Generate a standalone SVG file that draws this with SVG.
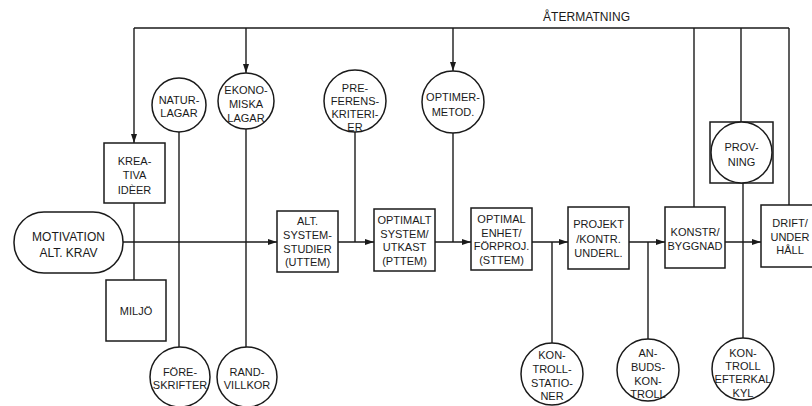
<svg xmlns="http://www.w3.org/2000/svg" width="812" height="406" viewBox="0 0 812 406">
<defs>
<marker id="arr" markerUnits="userSpaceOnUse" markerWidth="9" markerHeight="6" refX="9" refY="3" orient="auto">
<path d="M0,0 L9,3 L0,6 z" fill="#1a1a1a"/>
</marker>
<style>
.n{fill:#fff;stroke:#1a1a1a;stroke-width:1.5}
.c{fill:none;stroke:#1a1a1a;stroke-width:1.4}
.a{fill:none;stroke:#1a1a1a;stroke-width:1.4;marker-end:url(#arr)}
text{font-family:"Liberation Sans",Arial,sans-serif;font-size:11px;fill:#1a1a1a;text-anchor:middle}
.big{font-size:12px}
</style>
</defs>
<rect width="812" height="406" fill="#fff"/>
<g id="connectors">
<path class="c" d="M134,28 H789"/>
<path class="a" d="M134,28 V143"/>
<path class="a" d="M246,28 V73"/>
<path class="a" d="M453,28 V71"/>
<path class="c" d="M694,28 V207"/>
<path class="c" d="M741,28 V122"/>
<path class="c" d="M789,28 V205"/>
<path class="c" d="M134,203 V280"/>
<path class="c" d="M179,132 V347"/>
<path class="c" d="M246,129 V347"/>
<path class="c" d="M355,132 V242"/>
<path class="c" d="M453,133 V242"/>
<path class="c" d="M552,242 V343"/>
<path class="c" d="M648,242 V339"/>
<path class="c" d="M743,183 V338"/>
<path class="a" d="M123,242 H277"/>
<path class="a" d="M338,242 H374"/>
<path class="a" d="M435,242 H471"/>
<path class="a" d="M532,242 H568"/>
<path class="a" d="M629,242 H665"/>
<path class="a" d="M725,242 H761"/>
</g>
<g id="label-atermatning"><text x="543" y="21" class="big" style="text-anchor:start" textLength="87">ÅTERMATNING</text></g>
<g id="motivation">
<rect class="n" x="14" y="212" width="109" height="61" rx="30" ry="30"/>
<text x="68.5" y="241" class="big">MOTIVATION</text>
<text x="68.5" y="257" class="big">ALT. KRAV</text>
</g>
<g id="kreativa">
<rect class="n" x="104" y="143" width="61" height="60"/>
<text x="134.5" y="165">KREA-</text>
<text x="134.5" y="179">TIVA</text>
<text x="134.5" y="194">IDÈER</text>
</g>
<g id="miljo">
<rect class="n" x="106" y="280" width="60" height="61"/>
<text x="136" y="315">MILJÖ</text>
</g>
<g id="naturlagar">
<circle class="n" cx="179" cy="105" r="27"/>
<text x="179" y="104">NATUR-</text>
<text x="179" y="117">LAGAR</text>
</g>
<g id="ekonomiska">
<circle class="n" cx="246" cy="101" r="28"/>
<text x="246" y="94">EKONO-</text>
<text x="246" y="108">MISKA</text>
<text x="246" y="122">LAGAR</text>
</g>
<g id="preferens">
<circle class="n" cx="355" cy="101" r="31"/>
<text x="355" y="92">PRE-</text>
<text x="355" y="105">FERENS-</text>
<text x="355" y="118">KRITERI-</text>
<text x="355" y="131">ER</text>
</g>
<g id="optimer">
<circle class="n" cx="453" cy="102" r="31"/>
<text x="453" y="101">OPTIMER-</text>
<text x="453" y="116">METOD.</text>
</g>
<g id="provning">
<rect class="n" x="710" y="122" width="63" height="61"/>
<circle class="n" cx="741.5" cy="152.5" r="30.5"/>
<text x="741.5" y="151">PROV-</text>
<text x="741.5" y="166">NING</text>
</g>
<g id="alt-system">
<rect class="n" x="277" y="211" width="61" height="61"/>
<text x="307.5" y="225">ALT.</text>
<text x="307.5" y="239">SYSTEM-</text>
<text x="307.5" y="252.5">STUDIER</text>
<text x="307.5" y="266">(UTTEM)</text>
</g>
<g id="optimalt-system">
<rect class="n" x="374" y="209" width="61" height="62"/>
<text x="404.5" y="224">OPTIMALT</text>
<text x="404.5" y="237.5">SYSTEM/</text>
<text x="404.5" y="251">UTKAST</text>
<text x="404.5" y="264.5">(PTTEM)</text>
</g>
<g id="optimal-enhet">
<rect class="n" x="471" y="208" width="61" height="62"/>
<text x="501.5" y="223">OPTIMAL</text>
<text x="501.5" y="236.5">ENHET/</text>
<text x="501.5" y="250">FÖRPROJ.</text>
<text x="501.5" y="263.5">(STTEM)</text>
</g>
<g id="projekt">
<rect class="n" x="568" y="207" width="61" height="62"/>
<text x="598.5" y="228">PROJEKT</text>
<text x="598.5" y="242.5">/KONTR.</text>
<text x="598.5" y="257">UNDERL.</text>
</g>
<g id="konstr">
<rect class="n" x="665" y="207" width="60" height="61"/>
<text x="695" y="236">KONSTR/</text>
<text x="695" y="250">BYGGNAD</text>
</g>
<g id="drift">
<rect class="n" x="761" y="205" width="62" height="62"/>
<text x="790" y="227">DRIFT/</text>
<text x="790" y="241">UNDER</text>
<text x="790" y="254">HÅLL</text>
</g>
<g id="foreskrifter">
<circle class="n" cx="180" cy="377" r="30"/>
<text x="180" y="376">FÖRE-</text>
<text x="180" y="389">SKRIFTER</text>
</g>
<g id="randvillkor">
<circle class="n" cx="247" cy="377" r="30"/>
<text x="247" y="376">RAND-</text>
<text x="247" y="389">VILLKOR</text>
</g>
<g id="kontrollstationer">
<circle class="n" cx="552" cy="374" r="31"/>
<text x="552" y="359">KON-</text>
<text x="552" y="373">TROLL-</text>
<text x="552" y="387">STATIO-</text>
<text x="552" y="400">NER</text>
</g>
<g id="anbudskontroll">
<circle class="n" cx="648" cy="370" r="31"/>
<text x="648" y="357">AN-</text>
<text x="648" y="371">BUDS-</text>
<text x="648" y="385">KON-</text>
<text x="648" y="398">TROLL</text>
</g>
<g id="kontroll-efterkalkyl">
<circle class="n" cx="743" cy="369" r="31"/>
<text x="743" y="357">KON-</text>
<text x="743" y="370">TROLL</text>
<text x="743" y="383">EFTERKAL</text>
<text x="743" y="397">KYL</text>
</g>
</svg>
